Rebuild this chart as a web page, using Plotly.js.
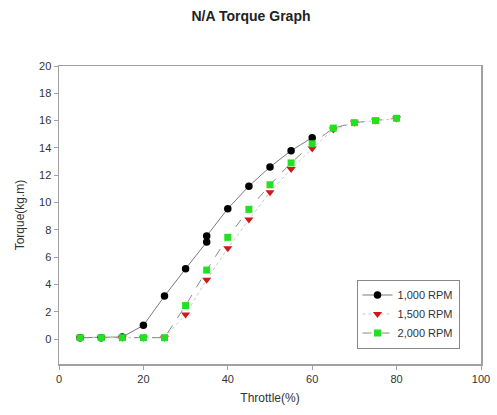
<!DOCTYPE html>
<html>
<head>
<meta charset="utf-8">
<script src="https://cdn.plot.ly/plotly-3.0.1.min.js"></script>
<style>html,body{margin:0;padding:0;background:#fff;}#chart{width:497px;height:415px;}</style>
</head>
<body>
<div id="chart"></div>
<script>
var x1000 = [5, 10, 15, 20, 25, 30, 35, 35, 40, 45, 50, 55, 60];
var y1000 = [0.1, 0.1, 0.15, 1.0, 3.15, 5.15, 7.1, 7.55, 9.55, 11.2, 12.6, 13.8, 14.75];
var x1500 = [5, 10, 15, 20, 25, 30, 35, 40, 45, 50, 55, 60, 65, 70, 75, 80];
var y1500 = [0.1, 0.1, 0.1, 0.1, 0.1, 1.8, 4.35, 6.65, 8.75, 10.75, 12.45, 13.95, 15.35, 15.85, 16.0, 16.15];
var x2000 = [5, 10, 15, 20, 25, 30, 35, 40, 45, 50, 55, 60, 65, 70, 75, 80];
var y2000 = [0.1, 0.1, 0.1, 0.1, 0.1, 2.45, 5.05, 7.45, 9.5, 11.3, 12.9, 14.3, 15.45, 15.85, 16.0, 16.17];
var names = ["1,000 RPM", "1,500 RPM", "2,000 RPM"];
var xTicks = [0, 20, 40, 60, 80, 100];
var yTicks = [0, 2, 4, 6, 8, 10, 12, 14, 16, 18, 20];

var traces = [
  {x: x1000, y: y1000, name: names[0], mode: "lines+markers", type: "scatter",
   line: {color: "#7a7a7a", width: 1, dash: "solid"},
   marker: {symbol: "circle", size: 7.5, color: "#000000"}},
  {x: x1500, y: y1500, name: names[1], mode: "lines+markers", type: "scatter",
   line: {color: "#c8c8c8", width: 1, dash: "dot"},
   marker: {symbol: "triangle-down", size: 8, color: "#d01818"}},
  {x: x2000, y: y2000, name: names[2], mode: "lines+markers", type: "scatter",
   line: {color: "#8a8a8a", width: 1, dash: "dash"},
   marker: {symbol: "square", size: 7, color: "#22e022"}}
];

var axisCommon = {
  showgrid: false, zeroline: false, showline: true, mirror: true,
  linecolor: "#a0a0a0", linewidth: 1.5,
  ticks: "outside", ticklen: 4, tickcolor: "#a0a0a0",
  tickfont: {family: "Liberation Sans, Arial, sans-serif", size: 11, color: "#333"}
};

var layout = {
  width: 497, height: 415,
  margin: {l: 59, r: 16, t: 66, b: 51},
  paper_bgcolor: "#fff", plot_bgcolor: "#fff",
  font: {family: "Liberation Sans, Arial, sans-serif", color: "#333"},
  title: {text: "<b>N/A Torque Graph</b>", x: 0.505, xanchor: "center", y: 0.962, yanchor: "middle",
          font: {family: "Liberation Sans, Arial, sans-serif", size: 14, color: "#222"}},
  xaxis: Object.assign({}, axisCommon, {
    range: [0, 100], tickvals: xTicks, ticktext: xTicks.map(String),
    title: {text: "Throttle(%)", font: {size: 12, color: "#333"}, standoff: 10}
  }),
  yaxis: Object.assign({}, axisCommon, {
    range: [-1.83, 20], tickvals: yTicks, ticktext: yTicks.map(String),
    title: {text: "Torque(kg.m)", font: {size: 12, color: "#333"}, standoff: 12}
  }),
  showlegend: true,
  legend: {x: 0.705, y: 0.052, xanchor: "left", yanchor: "bottom",
           bordercolor: "#888", borderwidth: 1, bgcolor: "#fff",
           font: {size: 11, color: "#333"}, tracegroupgap: 0}
};

Plotly.newPlot("chart", traces, layout, {displayModeBar: false, staticPlot: true});
</script>
</body>
</html>
